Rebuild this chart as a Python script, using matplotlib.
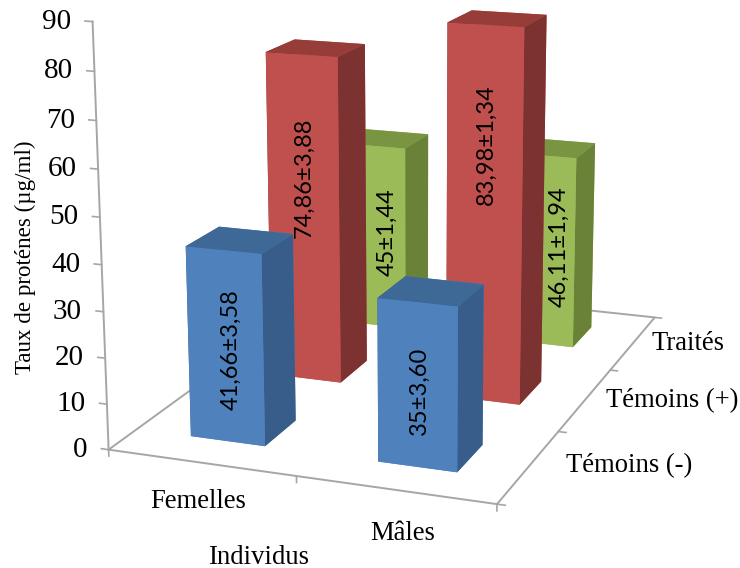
import matplotlib
matplotlib.use('Agg')
import matplotlib.pyplot as plt
from mpl_toolkits.mplot3d import proj3d

plt.rcParams['font.family'] = ['Liberation Serif', 'DejaVu Serif']

individus = ['Femelles', 'Mâles']
groupes = ['Témoins (-)', 'Témoins (+)', 'Traités']
valeurs_femelles = [41.66, 74.86, 45]
valeurs_males = [35, 83.98, 46.11]
etiquettes_femelles = ['41,66±3,58', '74,86±3,88', '45±1,44']
etiquettes_males = ['35±3,60', '83,98±1,34', '46,11±1,94']
graduations = [0, 10, 20, 30, 40, 50, 60, 70, 80, 90]

# couleur de face, de dessus et de cote pour chaque groupe
faces = ['#4F81BD', '#C0504D', '#9BBB59']
dessus = ['#3E6896', '#963D3A', '#7A9541']
cotes = ['#385D8A', '#7C3230', '#6A8238']
gris = '#A6A6A6'

W = 740.0
H = 568.0
fig = plt.figure(figsize=(W / 100, H / 100), dpi=100)
taille = 1.0433
cx, cy = 0.5336, 0.6539
ax = fig.add_axes([cx - taille / 2, cy - taille / 2 * W / H, taille, taille * W / H],
                  projection='3d', proj_type='persp', focal_length=0.5204, computed_zorder=False)
ax.view_init(elev=14.2847, azim=-69.6907, roll=0.0863)
ax.set_box_aspect((2.007, 3.0002, 2.1325))
ax.set_xlim(0, 2)
ax.set_ylim(0, 3)
ax.set_zlim(0, 90)
ax.set_xticks([])
ax.set_yticks([])
ax.set_zticks([])
ax.set_axis_off()
ax.apply_aspect()


def projete(x, y, z):
    px, py, _ = proj3d.proj_transform(x, y, z, ax.get_proj())
    return px, py


def ecrit(x, y, z, texte, decal=(0, 0), **kw):
    ax.annotate(texte, xy=projete(x, y, z), xycoords='data', xytext=decal, textcoords='offset points',
                annotation_clip=False, **kw)


largeur = 0.4034
prof = 0.3852
# hauteur du texte sur la face avant et decalage lateral (points)
niveaux_texte = [[20.2, 47, 23.5], [16.3, 58, 24]]
decal_texte = [[3.6, 0.7, 10.8], [1.4, 1.4, 13.7]]
valeurs = [valeurs_femelles, valeurs_males]
etiquettes = [etiquettes_femelles, etiquettes_males]

# sol et axe vertical
ax.plot([0, 2, 2, 0, 0], [0, 0, 3, 3, 0], [0, 0, 0, 0, 0], color=gris, lw=1.4, zorder=1)
ax.plot([0, 0], [0, 0], [0, 90], color=gris, lw=1.4, zorder=1)
for g in graduations:
    ax.plot([0, -0.04], [0, 0], [g, g], color=gris, lw=1.2, zorder=1)
    ecrit(0, 0, g, str(g), decal=(-15.5, 0), ha='right', va='center', fontsize=21)
for i in range(3):
    ax.plot([i, i], [0, 0], [0, -1.4], color=gris, lw=1.2, zorder=1)
for j in range(4):
    ax.plot([2, 2.04], [j, j], [0, 0], color=gris, lw=1.2, zorder=1)

# barres, du fond vers l'avant
for j in [2, 1, 0]:
    for i in [0, 1]:
        couleurs = [faces[j], dessus[j], faces[j], faces[j], cotes[j], cotes[j]]
        ax.bar3d(i + 0.5 - largeur / 2, j + 0.5 - prof / 2, 0, largeur, prof, valeurs[i][j],
                 color=couleurs, shade=False, zorder=10 * (3 - j) + i)
        ecrit(i + 0.5, j + 0.5 - prof / 2, niveaux_texte[i][j], etiquettes[i][j], decal=(decal_texte[i][j], 0),
              rotation=90, ha='center', va='center', fontsize=17, family='Lato', zorder=50)

fig.text(198 / W, 1 - 501 / H, individus[0], ha='center', va='center', fontsize=19.2)
fig.text(403 / W, 1 - 534 / H, individus[1], ha='center', va='center', fontsize=19.2)
fig.text(629 / W, 1 - 466 / H, groupes[0], ha='center', va='center', fontsize=19.2)
fig.text(672 / W, 1 - 401 / H, groupes[1], ha='center', va='center', fontsize=19.2)
fig.text(688 / W, 1 - 344 / H, groupes[2], ha='center', va='center', fontsize=19.2)
fig.text(259 / W, 1 - 557 / H, 'Individus', ha='center', va='center', fontsize=19.2)
fig.text(25 / W, 1 - 257 / H, 'Taux de proténes (µg/ml)', rotation=90, ha='center', va='center', fontsize=16.6)

fig.savefig('out.png', dpi=100)
